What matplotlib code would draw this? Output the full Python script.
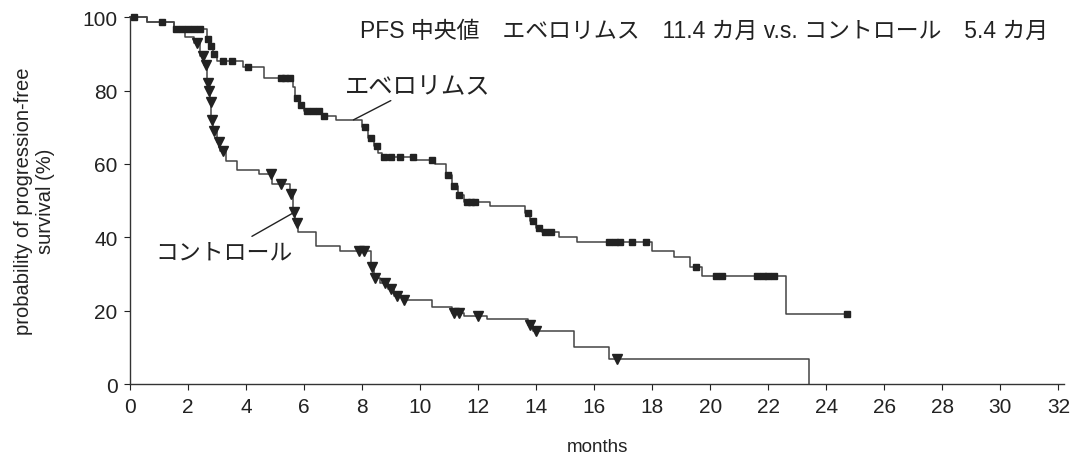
import numpy as np
import matplotlib
matplotlib.use('Agg')
import matplotlib.pyplot as plt

plt.rcParams['font.family'] = ['Liberation Sans', 'Noto Sans CJK JP', 'DejaVu Sans']

# Kaplan-Meier steps (months, % PFS)
evero_t = [0, 0.6, 1.5, 2.65, 2.75, 2.85, 3.0, 3.9, 4.6, 5.6, 5.7, 5.85, 6.0, 6.6, 7.1,
           8.0, 8.2, 8.4, 8.55, 8.7, 9.8, 10.5, 10.9, 11.1, 11.3, 11.5, 12.4, 13.6, 13.8,
           14.0, 14.2, 14.8, 15.4, 18.0, 18.75, 19.3, 19.7, 22.6, 24.7]
evero_s = [100, 98.8, 96.7, 94, 92, 90, 88, 86.5, 83.5, 81, 78, 76, 74.5, 73, 72,
           70, 67, 65, 63, 62, 61, 60, 57, 54, 51.5, 49.5, 48.5, 46.5, 44.5,
           42.5, 41.4, 40, 38.7, 36.3, 34.6, 31.9, 29.5, 19.2, 19.2]
evero_cens = [0.15, 1.1, 1.6, 1.8, 2.0, 2.2, 2.4, 2.7, 2.8, 2.9, 3.2, 3.5, 4.05, 5.2, 5.35,
              5.5, 5.75, 5.9, 6.1, 6.3, 6.5, 6.7, 8.1, 8.3, 8.5, 8.75, 9.0, 9.3, 9.75,
              10.4, 10.95, 11.15, 11.35, 11.6, 11.75, 11.9, 13.7, 13.9, 14.1, 14.3, 14.5,
              16.5, 16.7, 16.9, 17.3, 17.8, 19.5, 20.2, 20.4, 21.6, 21.8, 22.0, 22.2, 24.7]

ctrl_t = [0, 0.6, 1.5, 1.9, 2.2, 2.4, 2.55, 2.65, 2.7, 2.75, 2.8, 2.85, 3.0, 3.1, 3.3,
          3.7, 4.45, 4.9, 5.5, 5.6, 5.7, 5.8, 6.4, 7.25, 8.3, 8.4, 8.6, 8.9, 9.1, 9.4,
          10.4, 11.1, 11.5, 12.3, 13.7, 13.9, 15.3, 16.5, 23.4]
ctrl_s = [100, 98.8, 96.7, 94.5, 93, 89.5, 87, 82, 80, 77, 72, 69, 66, 63.5, 60.8,
          58.3, 57.2, 54.5, 51.8, 47, 44, 41.5, 37.5, 36.3, 32, 29, 27.5, 26, 24, 23,
          21, 19.5, 18.5, 17.7, 16, 14.5, 10.1, 6.8, 0]
ctrl_cens = [2.3, 2.5, 2.6, 2.68, 2.72, 2.78, 2.82, 2.9, 3.05, 3.2, 4.85, 5.2, 5.55,
             5.65, 5.75, 7.9, 8.05, 8.35, 8.45, 8.8, 9.0, 9.2, 9.45, 11.15, 11.35,
             12.0, 13.8, 14.0, 16.8]

xticks = list(range(0, 33, 2))
yticks = [0, 20, 40, 60, 80, 100]


def step_value(t, s, x):
    idx = np.searchsorted(t, x, side='right') - 1
    return np.array(s)[idx]


fig = plt.figure(figsize=(10.75, 4.64), dpi=100)
ax = fig.add_axes([0.121, 0.170, 0.869, 0.791])

line_col = '#444444'
mark_col = '#222222'

ax.plot(evero_t, evero_s, drawstyle='steps-post', color=line_col, lw=1.1, clip_on=False)
ax.plot(ctrl_t, ctrl_s, drawstyle='steps-post', color=line_col, lw=1.1, clip_on=False)
ax.plot(evero_cens, step_value(evero_t, evero_s, evero_cens), 's', ms=5,
        color=mark_col, mec=mark_col, clip_on=False)
ax.plot(ctrl_cens, step_value(ctrl_t, ctrl_s, ctrl_cens), 'v', ms=6.5,
        color=mark_col, mec=mark_col, clip_on=False)

ax.set_xlim(0, 32.2)
ax.set_ylim(0, 100)
ax.set_xticks(xticks)
ax.set_yticks(yticks)
ax.tick_params(labelsize=15, length=4, width=0.8, colors='#222222', pad=5)
for sp in ['top', 'right']:
    ax.spines[sp].set_visible(False)
for sp in ['left', 'bottom']:
    ax.spines[sp].set_color('#333333')
    ax.spines[sp].set_linewidth(1.0)

ax.set_xlabel('months', fontsize=13.5, labelpad=16, color='#222222')
ax.set_ylabel('probability of progression-free\nsurvival (%)', fontsize=14.5,
              labelpad=20, color='#222222', linespacing=1.15)

ax.text(31.65, 96.3, 'PFS 中央値\u3000エベロリムス\u300011.4 カ月 v.s. コントロール\u30005.4 カ月',
        ha='right', va='center', fontsize=16.5, color='#222222')

ax.annotate('エベロリムス', xy=(7.7, 72), xytext=(7.4, 81), fontsize=17.5,
            color='#222222', ha='left', va='center',
            arrowprops=dict(arrowstyle='-', color='#222222', lw=1.0, shrinkA=0, shrinkB=0))
ax.annotate('コントロール', xy=(5.7, 47), xytext=(3.25, 36), fontsize=16.5,
            color='#222222', ha='center', va='center',
            arrowprops=dict(arrowstyle='-', color='#222222', lw=1.0, shrinkA=2, shrinkB=0))

fig.savefig('out.png', dpi=100)
